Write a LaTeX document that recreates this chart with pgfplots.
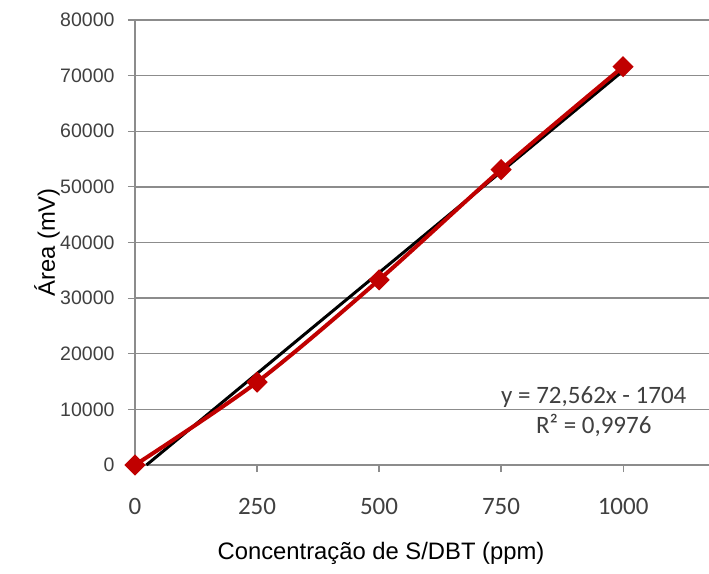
\documentclass[border=0pt]{standalone}
\usepackage{fontspec}
\setmainfont{Liberation Sans}
\newfontfamily\arial{Liberation Sans}
\newfontfamily\calibri{Carlito}
\usepackage{pgfplots}
\pgfplotsset{compat=1.18}
\definecolor{serred}{RGB}{192,0,0}
\definecolor{gridgray}{RGB}{140,140,140}
\definecolor{ticktext}{RGB}{64,64,64}

\begin{document}
\begin{tikzpicture}
\path[use as bounding box] (-135pt,-108pt) rectangle (574pt,465pt);
\begin{axis}[
    at={(0,0)}, anchor=south west,
    scale only axis,
    width=574pt, height=445pt,
    xmin=0, xmax=1176,
    ymin=0, ymax=80000,
    xtick={0,250,500,750,1000},
    ytick={0,10000,20000,30000,40000,50000,60000,70000,80000},
    yticklabels={0,10000,20000,30000,40000,50000,60000,70000,80000},
    xticklabels={0,250,500,750,1000},
    scaled ticks=false,
    axis x line=bottom, axis y line=left,
    axis line style={gridgray, line width=1.4pt, -},
    tick align=outside,
    major tick length=7pt,
    tick style={gridgray, line width=1.2pt},
    ymajorgrids,
    grid style={gridgray, line width=1.4pt},
    y tick label style={font=\arial\fontsize{19.5}{23}\selectfont, text=ticktext, xshift=-10pt},
    x tick label style={font=\calibri\fontsize{25}{28}\selectfont, text=ticktext, yshift=-23pt},
    xlabel={Concentração de S/DBT (ppm)},
    ylabel={Área (mV)},
    xlabel style={font=\arial\fontsize{23.8}{27}\selectfont, at={(axis description cs:0.4286,-0.198)}, anchor=center},
    ylabel style={font=\arial\fontsize{23.8}{27}\selectfont, at={(axis description cs:-0.1533,0.5)}, anchor=center},
    clip=false,
]
% linha de tendencia
\addplot[black, line width=3pt] coordinates {(23.5,0) (1000,70858)};
% dados
\addplot[serred, line width=4pt, smooth, tension=0.5,
    mark=square*, mark size=5.5pt, mark options={rotate=45, solid}] coordinates {
    (0,0) (250,14900) (500,33280) (750,53105) (1000,71600)
};
\node[font=\calibri\fontsize{25}{30}\selectfont, text=ticktext, align=center, anchor=center]
    at (axis cs:940,9600) {y = 72,562x - 1704\\R² = 0,9976};
\end{axis}
\end{tikzpicture}
\end{document}
